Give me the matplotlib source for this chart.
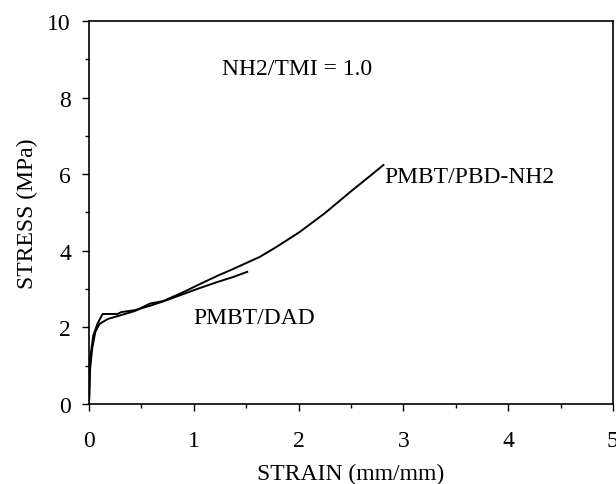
import matplotlib
matplotlib.use("Agg")
import matplotlib.pyplot as plt
from matplotlib import font_manager
from matplotlib.ticker import MultipleLocator

# Register a Times-metric serif face if it is on the system
for path in font_manager.findSystemFonts():
    if 'LiberationSerif-Regular' in path:
        font_manager.fontManager.addfont(path)
serif_name = 'Liberation Serif'
plt.rcParams['font.family'] = [serif_name, 'DejaVu Serif']

# Stress-strain data (strain in mm/mm, stress in MPa)
pbd_strain = [0.0, 0.01, 0.03, 0.06, 0.10, 0.18, 0.28, 0.44, 0.58, 0.71, 0.90,
              1.05, 1.22, 1.38, 1.54, 1.63, 1.80, 2.01, 2.25, 2.49, 2.68, 2.81]
pbd_stress = [0.0, 0.9, 1.44, 1.88, 2.09, 2.22, 2.30, 2.43, 2.62, 2.69, 2.92,
              3.12, 3.34, 3.53, 3.73, 3.84, 4.12, 4.49, 4.98, 5.53, 5.95, 6.24]

dad_strain = [0.0, 0.01, 0.04, 0.08, 0.12, 0.13, 0.27, 0.31, 0.44, 0.60, 0.71,
              0.90, 1.05, 1.22, 1.38, 1.51]
dad_stress = [0.0, 1.17, 1.78, 2.09, 2.30, 2.35, 2.35, 2.40, 2.45, 2.58, 2.68,
              2.87, 3.02, 3.18, 3.32, 3.45]

fig = plt.figure(figsize=(6.16, 4.85), dpi=100)
ax = fig.add_axes([0.1445, 0.165, 0.8505, 0.7896])

ax.plot(pbd_strain, pbd_stress, color='black', lw=1.4)
ax.plot(dad_strain, dad_stress, color='black', lw=1.4)

ax.set_xlim(0, 5)
ax.set_ylim(0, 10)
ax.xaxis.set_major_locator(MultipleLocator(1))
ax.xaxis.set_minor_locator(MultipleLocator(0.5))
ax.yaxis.set_major_locator(MultipleLocator(2))
ax.yaxis.set_minor_locator(MultipleLocator(1))
ax.tick_params(which='both', direction='out', labelsize=17, width=1)
ax.tick_params(which='major', length=5)
ax.tick_params(which='minor', length=3)
ax.tick_params(axis='x', pad=14)
ax.tick_params(axis='y', pad=8)
for s in ax.spines.values():
    s.set_linewidth(1.2)

ax.set_xlabel('STRAIN (mm/mm)', fontsize=17)
ax.xaxis.set_label_coords(0.5, -0.155)
ax.set_ylabel('STRESS (MPa)', fontsize=17)
ax.yaxis.set_label_coords(-0.098, 0.5)

ax.text(1.27, 8.75, 'NH2/TMI = 1.0', fontsize=17, va='center', ha='left')
ax.text(2.82, 5.95, 'PMBT/PBD-NH2', fontsize=17, va='center', ha='left')
ax.text(1.0, 2.27, 'PMBT/DAD', fontsize=17, va='center', ha='left')

fig.savefig('out.png', dpi=100)
